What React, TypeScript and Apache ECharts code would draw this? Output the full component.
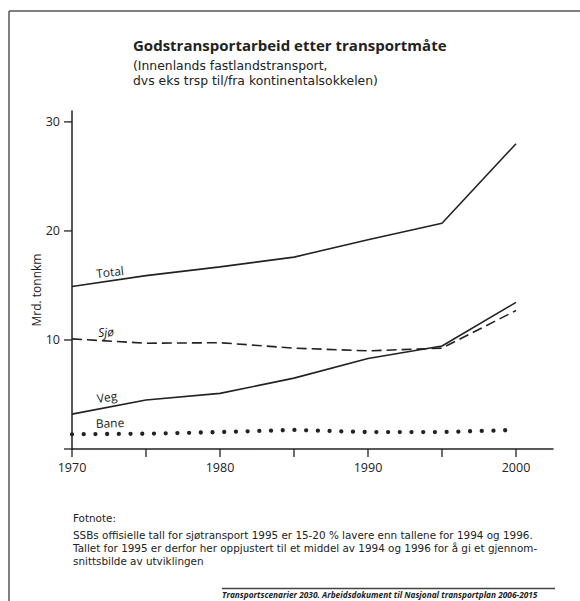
import React, { useEffect, useRef } from "react";
import * as echarts from "echarts";

const years = [1970, 1975, 1980, 1985, 1990, 1995, 2000];
const totalValues = [14.9, 15.9, 16.7, 17.6, 19.2, 20.7, 28.0];
const sjoValues = [10.1, 9.7, 9.75, 9.25, 9.0, 9.25, 12.7];
const vegValues = [3.2, 4.5, 5.1, 6.5, 8.3, 9.45, 13.45];
const baneValues = [1.35, 1.4, 1.55, 1.75, 1.55, 1.55, 1.75];
const xTickValues = [1970, 1975, 1980, 1985, 1990, 1995, 2000];
const xLabelValues = [1970, 1980, 1990, 2000];
const yTickValues = [0, 10, 20, 30];
const yLabelValues = [10, 20, 30];

const title = "Godstransportarbeid etter transportmåte";
const subtitleLines = ["(Innenlands fastlandstransport,", "dvs eks trsp til/fra kontinentalsokkelen)"];
const yAxisName = "Mrd. tonnkm";
const footnoteHead = "Fotnote:";
const footnoteLines = [
  "SSBs offisielle tall for sjøtransport 1995 er 15-20 % lavere enn tallene for 1994 og 1996.",
  "Tallet for 1995 er derfor her oppjustert til et middel av 1994 og 1996 for å gi et gjennom-",
  "snittsbilde av utviklingen",
];
const source = "Transportscenarier 2030. Arbeidsdokument til Nasjonal transportplan 2006-2015";

const FONT = "'Open Sans', 'Noto Sans', sans-serif";
const FONT2 = "'DejaVu Sans', sans-serif";
const INK = "#222";

function pairs(vals: number[]) {
  return years.map((y, i) => [y, vals[i]]);
}

export default function App() {
  const ref = useRef<HTMLDivElement>(null);
  useEffect(() => {
    if (!ref.current) return;
    const chart = echarts.init(ref.current, null, { renderer: "svg" });
    const lineBase = { type: "line", symbol: "none", silent: true, smooth: false };
    const tickLen = 8;
    chart.setOption({
      animation: false,
      backgroundColor: "#fff",
      grid: { left: 72, right: 27, top: 111, bottom: 152, containLabel: false },
      xAxis: {
        type: "value",
        min: 1970,
        max: 2002.5,
        splitLine: { show: false },
        axisLine: { show: true, lineStyle: { color: INK, width: 1.5 } },
        axisTick: { show: false },
        axisLabel: {
          customValues: xLabelValues,
          formatter: (v: number) => String(v),
          color: INK,
          fontFamily: FONT,
          fontSize: 12.5,
          margin: 12,
        },
      },
      yAxis: {
        type: "value",
        min: 0,
        max: 31,
        splitLine: { show: false },
        axisLine: { show: true, lineStyle: { color: INK, width: 1.5 } },
        axisTick: { show: false },
        axisLabel: {
          customValues: yLabelValues,
          formatter: (v: number) => String(v),
          color: INK,
          fontFamily: FONT,
          fontSize: 12.5,
          margin: 12,
        },
      },
      series: [
        { ...lineBase, name: "Total", data: pairs(totalValues), lineStyle: { color: INK, width: 1.6 } },
        { ...lineBase, name: "Sjø", data: pairs(sjoValues), lineStyle: { color: INK, width: 1.6, type: [10, 5] } },
        { ...lineBase, name: "Veg", data: pairs(vegValues), lineStyle: { color: INK, width: 1.6 } },
        {
          ...lineBase,
          name: "Bane",
          data: pairs(baneValues),
          lineStyle: { color: INK, width: 4.3, type: [0.01, 11.7], cap: "round" },
        },
        {
          type: "custom",
          name: "xticks",
          silent: true,
          clip: false,
          data: xTickValues.map((v) => [v, 0]),
          renderItem: (_p: any, api: any) => {
            const p = api.coord([api.value(0), api.value(1)]);
            return {
              type: "line",
              shape: { x1: p[0], y1: p[1], x2: p[0], y2: p[1] + tickLen },
              style: { stroke: INK, lineWidth: 1.3 },
            };
          },
        },
        {
          type: "custom",
          name: "yticks",
          silent: true,
          clip: false,
          data: yTickValues.map((v) => [1970, v]),
          renderItem: (_p: any, api: any) => {
            const p = api.coord([api.value(0), api.value(1)]);
            return {
              type: "line",
              shape: { x1: p[0] - tickLen, y1: p[1], x2: p[0], y2: p[1] },
              style: { stroke: INK, lineWidth: 1.3 },
            };
          },
        },
      ],
      graphic: [
        { type: "line", shape: { x1: 9, y1: 11, x2: 580, y2: 11 }, style: { stroke: "#555", lineWidth: 1.5 } },
        { type: "line", shape: { x1: 9, y1: 11, x2: 9, y2: 601 }, style: { stroke: "#555", lineWidth: 1.5 } },
        {
          type: "text",
          left: 133,
          top: 36,
          style: { text: title, font: `bold 15px ${FONT}`, fill: INK, lineHeight: 18 },
        },
        {
          type: "text",
          left: 133,
          top: 57.5,
          style: { text: subtitleLines[0], font: `12.4px ${FONT2}`, fill: INK, lineHeight: 15 },
        },
        {
          type: "text",
          left: 133,
          top: 72.5,
          style: { text: subtitleLines[1], font: `12.4px ${FONT2}`, fill: INK, lineHeight: 15 },
        },
        {
          type: "text",
          x: 36,
          y: 290,
          rotation: Math.PI / 2,
          style: { text: yAxisName, font: `12px ${FONT}`, fill: INK, align: "center", verticalAlign: "middle" },
        },
        {
          type: "text",
          x: 110,
          y: 272,
          rotation: 0.12,
          style: { text: "Total", font: `12px ${FONT}`, fill: INK, align: "center", verticalAlign: "middle" },
        },
        {
          type: "text",
          x: 106,
          y: 332,
          rotation: 0.08,
          style: { text: "Sjø", font: `italic 12px ${FONT}`, fill: INK, align: "center", verticalAlign: "middle" },
        },
        {
          type: "text",
          x: 107,
          y: 397,
          rotation: 0.14,
          style: { text: "Veg", font: `12px ${FONT}`, fill: INK, align: "center", verticalAlign: "middle" },
        },
        {
          type: "text",
          x: 110,
          y: 423,
          rotation: 0.04,
          style: { text: "Bane", font: `12px ${FONT}`, fill: INK, align: "center", verticalAlign: "middle" },
        },
        {
          type: "text",
          left: 73,
          top: 512,
          style: { text: footnoteHead, font: `10.4px ${FONT2}`, fill: INK, lineHeight: 12.5 },
        },
        ...footnoteLines.map((t, i) => ({
          type: "text",
          left: 73,
          top: 529 + i * 13,
          style: { text: t, font: `10.4px ${FONT2}`, fill: INK, lineHeight: 12.5 },
        })),
        { type: "line", shape: { x1: 222, y1: 588.5, x2: 555, y2: 588.5 }, style: { stroke: "#444", lineWidth: 1.5 } },
        {
          type: "text",
          left: 222,
          top: 589.5,
          style: { text: source, font: `italic bold 8.3px ${FONT}`, fill: INK, lineHeight: 10 },
        },
      ],
    });
    return () => chart.dispose();
  }, []);
  return (
    <div
      ref={ref}
      style={{ position: "fixed", left: 0, top: 0, width: 580, height: 601, background: "#fff" }}
    />
  );
}
